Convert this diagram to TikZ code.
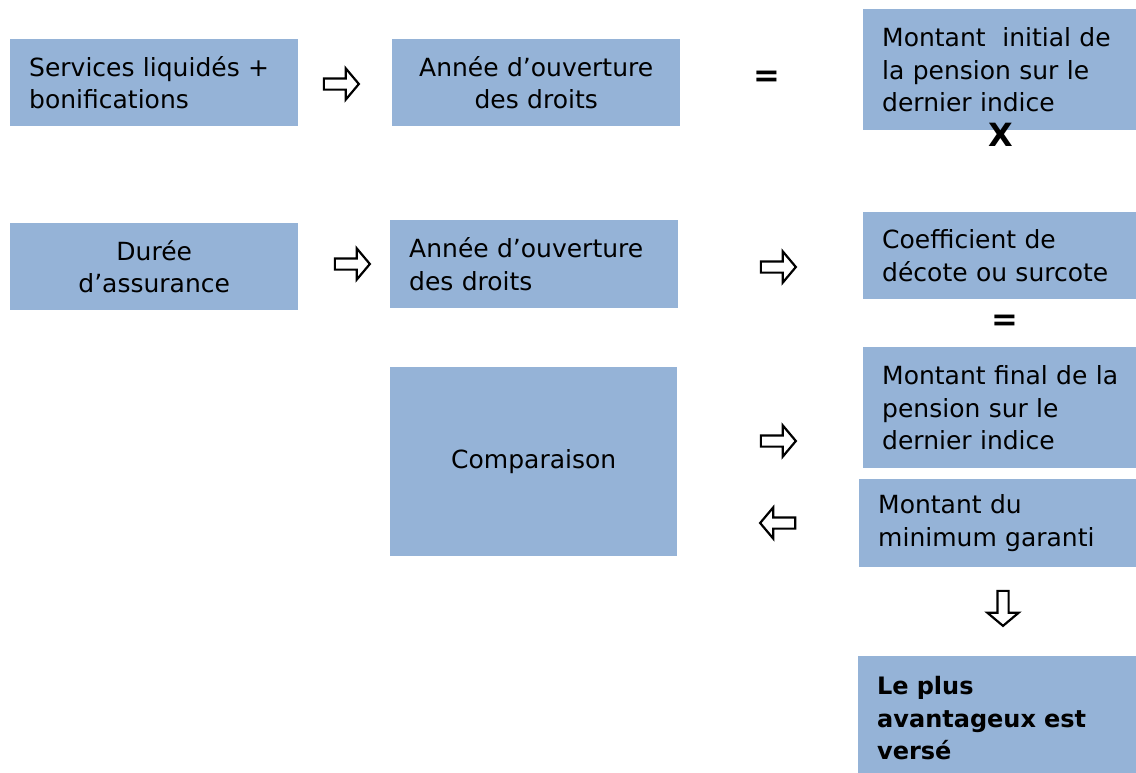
\documentclass[tikz,border=0pt]{standalone}
\usepackage{fontspec}
\setmainfont{DejaVu Sans}
\usepackage{tikz}
\usetikzlibrary{shapes.arrows,positioning}
\usepackage{xcolor}
\definecolor{pnblue}{RGB}{149,179,215}
\tikzstyle{box} = [rectangle, fill=pnblue, anchor=north west, inner xsep=19pt, inner ysep=0pt, align=left, font=\fontsize{25}{32.5}\selectfont]
\tikzstyle{blockarrow} = [single arrow, draw=black, fill=white, line width=2.2pt, minimum height=35pt, inner sep=4.5pt, single arrow head extend=10pt, single arrow tip angle=100]
\tikzstyle{sign} = [inner sep=0pt, font=\bfseries\fontsize{32}{32}\selectfont]

\begin{document}
\begin{tikzpicture}[x=1pt, y=-1pt]
\useasboundingbox (0,0) rectangle (1136,772);

% First row
\node (serv) [box, text width=250pt, minimum height=87pt] at (10,39) {Services liquidés +\\bonifications};
\node (annee1) [box, align=center, text width=250pt, minimum height=87pt] at (392,39) {Année d’ouverture\\des droits};
\node (initial) [box, text width=250pt, minimum height=121pt] at (863,9) {Montant~ initial de\\la pension sur le\\dernier indice};

% Second row
\node (duree) [box, align=center, text width=250pt, minimum height=87pt] at (10,223) {Durée\\d’assurance};
\node (annee2) [box, text width=250pt, minimum height=88pt] at (390,220) {Année d’ouverture\\des droits};
\node (coef) [box, text width=250pt, minimum height=87pt] at (863,212) {Coefficient de\\décote ou surcote};

% Comparison
\node (comp) [box, align=center, text width=249pt, minimum height=189pt] at (390,367) {Comparaison};
\node (final) [box, text width=250pt, minimum height=121pt] at (863,347) {Montant final de la\\pension sur le\\dernier indice};
\node (mini) [box, text width=250pt, minimum height=88pt] at (859,479) {Montant du\\minimum garanti};
\node (verse) [box, text width=250pt, minimum height=124pt, font=\bfseries\fontsize{24}{32.5}\selectfont] at (858,656) {Le plus\\avantageux est\\versé};

% Block arrows
\node (a1) [blockarrow] at (339,84) {};
\node (a2) [blockarrow] at (350,264) {};
\node (a3) [blockarrow] at (776,267) {};
\node (a4) [blockarrow] at (776,441) {};
\node (a5) [blockarrow, shape border rotate=180] at (780,523) {};
\node (a6) [blockarrow, shape border rotate=270] at (1003,606) {};

% Operators
\node (eq1) [sign] at (767,79) {=};
\node (times) [sign] at (1001,135) {X};
\node (eq2) [sign] at (1005,323) {=};
\end{tikzpicture}
\end{document}
